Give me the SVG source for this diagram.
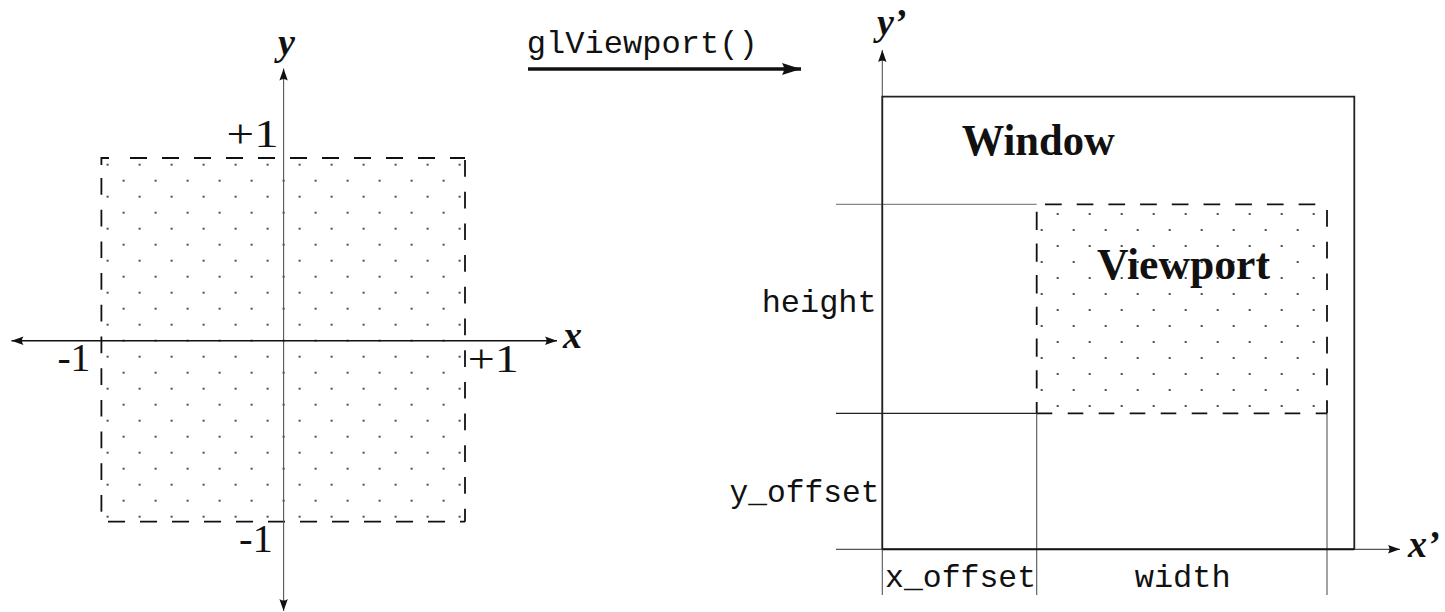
<svg xmlns="http://www.w3.org/2000/svg" width="1445" height="612" viewBox="0 0 1445 612">
<style>
.num{font-family:"Liberation Serif",serif;font-size:40px;fill:#111}
.math{font-family:"Liberation Serif",serif;font-style:italic;font-weight:bold;font-size:38px;fill:#111}
.tt{font-family:"Liberation Mono",monospace;font-size:32px;fill:#111}
.bold{font-family:"Liberation Serif",serif;font-weight:bold;font-size:44px;fill:#111}
.dash{stroke:#111;stroke-width:1.8;fill:none}
.thin{stroke:#555;stroke-width:1.1;fill:none}
</style>
<defs>
<pattern id="dotsL" patternUnits="userSpaceOnUse" x="99.6" y="332.7" width="32" height="32">
<circle cx="24" cy="8" r="1.1" fill="#222"/>
<circle cx="8" cy="24" r="1.1" fill="#222"/>
</pattern>
<pattern id="dotsR" patternUnits="userSpaceOnUse" x="1033.7" y="382" width="32" height="32">
<circle cx="8" cy="8" r="1.1" fill="#222"/>
<circle cx="24" cy="24" r="1.1" fill="#222"/>
</pattern>
<marker id="ah" markerUnits="userSpaceOnUse" viewBox="-13 -5 14 10" refX="0" refY="0" markerWidth="14" markerHeight="10" orient="auto">
<path d="M0,0 L-12,-4.2 Q-9,0 -12,4.2 Z" fill="#111"/>
</marker>
<marker id="ahs" markerUnits="userSpaceOnUse" viewBox="-13 -5 14 10" refX="0" refY="0" markerWidth="14" markerHeight="10" orient="auto-start-reverse">
<path d="M0,0 L-12,-4.2 Q-9,0 -12,4.2 Z" fill="#111"/>
</marker>
<marker id="ahb" markerUnits="userSpaceOnUse" viewBox="-20 -7 21 14" refX="0" refY="0" markerWidth="21" markerHeight="14" orient="auto">
<path d="M0,0 L-19,-6 Q-15,0 -19,6 Z" fill="#111"/>
</marker>
</defs>

<!-- Left: normalized device coordinates -->
<g id="ndc-square">
<rect x="101.4" y="158" width="363.6" height="363.7" fill="url(#dotsL)"/>
<line class="dash" x1="130" y1="158" x2="465" y2="158" stroke-dasharray="17 15"/>
<polyline class="dash" points="109,158 101.4,158 101.4,165"/>
<line class="dash" x1="101.4" y1="178" x2="101.4" y2="521.7" stroke-dasharray="16.7 15"/>
<line class="dash" x1="465" y1="160" x2="465" y2="521.7" stroke-dasharray="16.7 15"/>
<line class="dash" x1="108" y1="521.7" x2="465" y2="521.7" stroke-dasharray="17 15"/>
</g>

<g id="connectors">
<line x1="283.6" y1="611" x2="283.6" y2="68.5" stroke="#555" stroke-width="1.1" marker-end="url(#ah)"/>
<line x1="283.6" y1="340.7" x2="283.6" y2="611" stroke="none" marker-end="url(#ah)"/>
<line x1="11.5" y1="340.7" x2="557" y2="340.7" stroke="#111" stroke-width="1.6" marker-start="url(#ahs)" marker-end="url(#ah)"/>
<line x1="528" y1="69" x2="801" y2="69" stroke="#111" stroke-width="3.6" marker-end="url(#ahb)"/>
<line x1="882.3" y1="595" x2="882.3" y2="50" stroke="#555" stroke-width="1.1" marker-end="url(#ah)"/>
<line x1="836" y1="549.3" x2="1400" y2="549.3" stroke="#555" stroke-width="1.3" marker-end="url(#ah)"/>
<line x1="836" y1="204.3" x2="1036.7" y2="204.3" stroke="#888" stroke-width="1.2"/>
<line x1="836" y1="413.3" x2="1036.7" y2="413.3" stroke="#222" stroke-width="1.2"/>
<line class="thin" x1="1036.7" y1="413.3" x2="1036.7" y2="595"/>
<line class="thin" x1="1327" y1="413.3" x2="1327" y2="595"/>
</g>

<g id="labels-left">
<text class="math" x="278" y="55">y</text>
<text class="math" x="563" y="348.3">x</text>
<text class="num" x="226.6" y="146.7" textLength="52" lengthAdjust="spacingAndGlyphs">+1</text>
<text class="num" x="57.4" y="370.7" textLength="33" lengthAdjust="spacingAndGlyphs">-1</text>
<text class="num" x="467.7" y="372" textLength="51" lengthAdjust="spacingAndGlyphs">+1</text>
<text class="num" x="239" y="552" textLength="34" lengthAdjust="spacingAndGlyphs">-1</text>
</g>

<g id="glviewport-label">
<text class="tt" x="526.7" y="53.3" textLength="231" lengthAdjust="spacingAndGlyphs">glViewport()</text>
</g>

<!-- Right: window coordinates -->
<g id="window">
<polyline points="882.3,549.3 882.3,96.7 1354.3,96.7 1354.3,549.3" fill="none" stroke="#222" stroke-width="1.8"/>
<line x1="882.3" y1="549.3" x2="1354.3" y2="549.3" stroke="#111" stroke-width="2"/>
<text class="bold" x="961.7" y="155" textLength="153" lengthAdjust="spacingAndGlyphs">Window</text>
</g>

<g id="viewport">
<rect x="1036.7" y="204.3" width="290.3" height="209" fill="url(#dotsR)"/>
<line class="dash" x1="1045" y1="204.3" x2="1327" y2="204.3" stroke-dasharray="16.7 15"/>
<line class="dash" x1="1036.7" y1="211.7" x2="1036.7" y2="413.3" stroke-dasharray="18.3 13.4"/>
<line class="dash" x1="1327" y1="210" x2="1327" y2="413.3" stroke-dasharray="16.7 15"/>
<line class="dash" x1="1036.7" y1="413.3" x2="1327" y2="413.3" stroke-dasharray="15.6 15.4"/>
<text class="bold" x="1097" y="279" textLength="173" lengthAdjust="spacingAndGlyphs">Viewport</text>
</g>

<g id="labels-right">
<text class="math" x="877" y="35">y’</text>
<text class="math" x="1408" y="556.7">x’</text>
<text class="tt" x="761.7" y="311.7" textLength="115" lengthAdjust="spacingAndGlyphs">height</text>
<text class="tt" x="729.5" y="501.7" textLength="150" lengthAdjust="spacingAndGlyphs">y_offset</text>
<text class="tt" x="885" y="586.7" textLength="151" lengthAdjust="spacingAndGlyphs">x_offset</text>
<text class="tt" x="1134.7" y="586.7" textLength="96" lengthAdjust="spacingAndGlyphs">width</text>
</g>
</svg>
